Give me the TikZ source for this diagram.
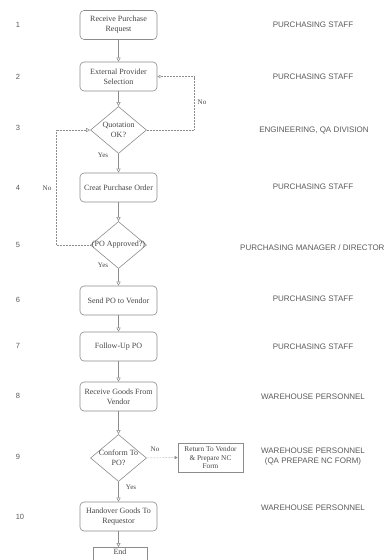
\documentclass[tikz,border=0pt]{standalone}
\usepackage{fontspec}
\setmainfont{Liberation Serif}
\newfontfamily\lsans{Liberation Sans}
\usetikzlibrary{shapes.geometric,arrows.meta}
\definecolor{ln}{HTML}{8C8C8C}
\definecolor{tx}{HTML}{454545}
\definecolor{rl}{HTML}{5A5A5A}
\begin{document}
\begin{tikzpicture}[x=1pt,y=-1pt,
  box/.style={draw=ln, rounded corners=4pt, minimum width=77pt, minimum height=29pt,
    align=center, font=\fontsize{8}{10}\selectfont, text=tx, inner sep=1pt, line width=0.6pt},
  sqbox/.style={draw=ln, minimum width=65pt, minimum height=29pt, align=center,
    font=\fontsize{7.3}{8.5}\selectfont, text=tx, inner sep=1pt, line width=0.6pt},
  dia/.style={draw=ln, diamond, minimum width=56pt, minimum height=47pt, inner sep=0pt, line width=0.6pt},
  dtext/.style={align=center, font=\fontsize{8}{10}\selectfont, text=tx, inner sep=0pt},
  num/.style={font=\lsans\fontsize{7.5}{9}\selectfont, text=rl},
  role/.style={font=\lsans\fontsize{8}{10}\selectfont, text=rl, align=center, inner sep=0pt},
  lab/.style={font=\fontsize{7}{8}\selectfont, text=tx, inner sep=0pt},
  flow/.style={draw=ln, line width=0.5pt, -{Triangle[open,length=4pt,width=4pt]}},
  dotl/.style={draw=ln, densely dotted, line width=0.5pt}
]
\useasboundingbox (0,0) rectangle (385,560);
\clip (0,0) rectangle (385,560);

% flow nodes
\node[box] (b1) at (118.5,25) {Receive Purchase\\Request};
\node[box] (b2) at (118.5,76.5) {External Provider\\Selection};
\node[dia] (d3) at (118.5,130) {};
\node[dtext] (t3) at (d3) {Quotation\\OK?};
\node[box] (b4) at (118.5,187.5) {Creat Purchase Order};
\node[dia] (d5) at (118.5,245) {};
\node[dtext] (t5) at (d5) {(PO Approved?)};
\node[box] (b6) at (118.5,300.5) {Send PO to Vendor};
\node[box] (b7) at (118.5,346.5) {Follow-Up PO};
\node[box] (b8) at (118.5,396.5) {Receive Goods From\\Vendor};
\node[dia] (d9) at (118.5,458) {};
\node[dtext] (t9) at (d9) {Conform To\\PO?};
\node[box] (b10) at (118.5,516.5) {Handover Goods To\\Requestor};
\node[draw=ln, line width=0.6pt, anchor=north, minimum width=54pt, text height=5.5pt, text depth=11pt,
  inner ysep=2pt, font=\fontsize{8}{10}\selectfont, text=tx] (endn) at (120,547) {End};
\node[sqbox] (rt) at (210.5,457.5) {Return To Vendor\\\& Prepare NC\\Form};

% main connectors
\draw[flow] (b1) -- (b2);
\draw[flow] (b2) -- (d3.north);
\draw[flow] (d3.south) -- (b4);
\draw[flow] (b4) -- (d5.north);
\draw[flow] (d5.south) -- (b6);
\draw[flow] (b6) -- (b7);
\draw[flow] (b7) -- (b8);
\draw[flow] (b8) -- (d9.north);
\draw[flow] (d9.south) -- (b10);
\draw[flow] (b10) -- (endn.north -| b10.south);

% loops
\coordinate (r3) at (194,130);
\coordinate (r2) at (194,76.5);
\draw[dotl, -{Triangle[open,length=3pt,width=3pt]}] (d3.east) -- (r3) -- (r2) -- (b2.east);
\coordinate (l5) at (56,245);
\coordinate (l3) at (56,130);
\draw[dotl, -{Triangle[open,length=4pt,width=4pt]}] (d5.west) -- (l5) -- (l3) -- (d3.west);
\draw[dotl, -{Triangle[length=3pt,width=3pt]}] (d9.east) -- (rt.west);

% yes / no labels
\node[lab] (no3) at (202,102) {No};
\node[lab] (no5) at (47,188) {No};
\node[lab] (y3) at (103,155) {Yes};
\node[lab] (y5) at (103,265) {Yes};
\node[lab] (y9) at (131,487) {Yes};
\node[lab] (no9) at (155,449) {No};

% step numbers
\node[num] (n1) at (18,25) {1};
\node[num] (n2) at (18,77) {2};
\node[num] (n3) at (18,128) {3};
\node[num] (n4) at (18,188) {4};
\node[num] (n5) at (18,245) {5};
\node[num] (n6) at (18,300) {6};
\node[num] (n7) at (18,346) {7};
\node[num] (n8) at (18,396) {8};
\node[num] (n9) at (18,457) {9};
\node[num] (n10) at (20,517) {10};

% roles
\node[role] (r1) at (313,25) {PURCHASING STAFF};
\node[role] (rr2) at (313,77) {PURCHASING STAFF};
\node[role] (rr3) at (314,130) {ENGINEERING, QA DIVISION};
\node[role] (r4) at (313,187) {PURCHASING STAFF};
\node[role, anchor=west] (r5) at (240,248) {PURCHASING MANAGER / DIRECTOR};
\node[role] (r6) at (313,299) {PURCHASING STAFF};
\node[role] (r7) at (313,347) {PURCHASING STAFF};
\node[role] (r8) at (313,397) {WAREHOUSE PERSONNEL};
\node[role] (r9) at (313,457) {WAREHOUSE PERSONNEL\\(QA PREPARE NC FORM)};
\node[role] (r10) at (313,508) {WAREHOUSE PERSONNEL};
\end{tikzpicture}
\end{document}
